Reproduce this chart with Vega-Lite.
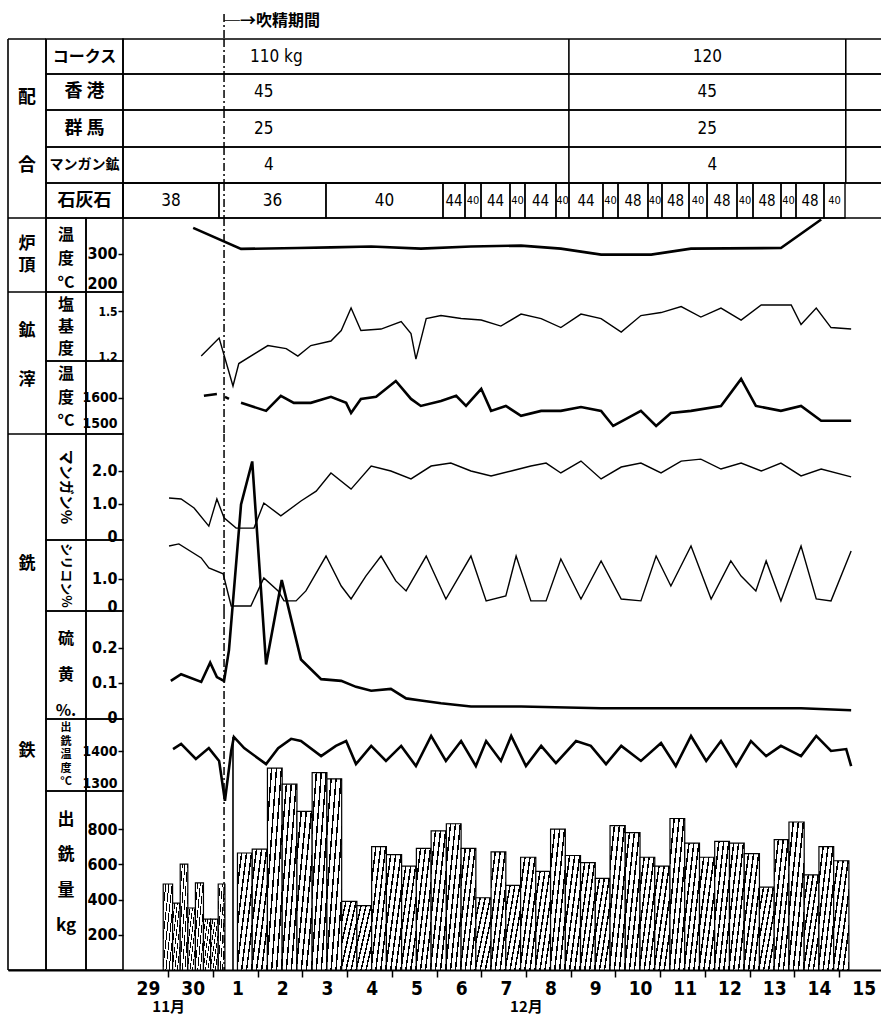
{
  "$schema": "https://vega.github.io/schema/vega-lite/v6.json",
  "background": "white",
  "padding": {"left": 7, "top": 13, "right": 0, "bottom": 0},
  "bounds": "flush",
  "spacing": 0,
  "resolve": {"scale": {"x": "independent", "y": "independent"}},
  "config": {
    "view": {"stroke": null},
    "concat": {"spacing": 0},
    "text": {"font": "Noto Sans CJK JP", "fontWeight": "bold", "color": "black"},
    "axis": {"grid": false, "domain": false, "title": null, "tickColor": "black", "labelColor": "black", "tickWidth": 1.5, "labelFont": "DejaVu Sans Condensed", "labelFontWeight": "bold", "labelOverlap": false, "labelBound": false},
    "line": {"color": "black"},
    "rule": {"color": "black", "strokeWidth": 1.6},
    "rect": {"fill": "transparent", "stroke": "black", "strokeWidth": 1.6}
  },
  "datasets": {
    "one": [{}],
    "events": [{"day": 1.70, "kind": "dash"}, {"day": 1.90, "kind": "solid"}],
    "mix": [
      {"item": "coke", "period": 1, "from": 1.70, "to": 9.41, "label": "110 kg"},
      {"item": "coke", "period": 2, "from": 9.41, "to": 15.6, "label": "120"},
      {"item": "hk", "period": 1, "from": 1.70, "to": 9.41, "label": "45"},
      {"item": "hk", "period": 2, "from": 9.41, "to": 15.6, "label": "45"},
      {"item": "gunma", "period": 1, "from": 1.70, "to": 9.41, "label": "25"},
      {"item": "gunma", "period": 2, "from": 9.41, "to": 15.6, "label": "25"},
      {"item": "mn", "period": 1, "from": 1.70, "to": 9.41, "label": "4"},
      {"item": "mn", "period": 2, "from": 9.41, "to": 15.6, "label": "4"}
    ],
    "lime": [
      {"from": -0.559, "to": 1.587, "kg": 38}, {"from": 1.587, "to": 3.979, "kg": 36},
      {"from": 3.979, "to": 6.595, "kg": 40}, {"from": 6.595, "to": 7.087, "kg": 44},
      {"from": 7.087, "to": 7.445, "kg": 40}, {"from": 7.445, "to": 8.093, "kg": 44},
      {"from": 8.093, "to": 8.428, "kg": 40}, {"from": 8.428, "to": 9.121, "kg": 44},
      {"from": 9.121, "to": 9.412, "kg": 40}, {"from": 9.412, "to": 10.172, "kg": 44},
      {"from": 10.172, "to": 10.508, "kg": 40}, {"from": 10.508, "to": 11.178, "kg": 48},
      {"from": 11.178, "to": 11.491, "kg": 40}, {"from": 11.491, "to": 12.095, "kg": 48},
      {"from": 12.095, "to": 12.498, "kg": 40}, {"from": 12.498, "to": 13.168, "kg": 48},
      {"from": 13.168, "to": 13.526, "kg": 40}, {"from": 13.526, "to": 14.152, "kg": 48},
      {"from": 14.152, "to": 14.487, "kg": 40}, {"from": 14.487, "to": 15.113, "kg": 48},
      {"from": 15.113, "to": 15.583, "kg": 40}
    ],
    "furnace": [
      {"day": 1.01, "temp": 387}, {"day": 2.08, "temp": 317}, {"day": 3.35, "temp": 320},
      {"day": 4.09, "temp": 322}, {"day": 4.99, "temp": 325}, {"day": 6.10, "temp": 318},
      {"day": 7.22, "temp": 325}, {"day": 8.34, "temp": 328}, {"day": 9.23, "temp": 318},
      {"day": 10.13, "temp": 298}, {"day": 11.25, "temp": 298}, {"day": 12.14, "temp": 318},
      {"day": 14.15, "temp": 320}, {"day": 15.05, "temp": 415}
    ],
    "basicity": [
      {"day": 1.19, "b": 1.2}, {"day": 1.59, "b": 1.32}, {"day": 1.90, "b": 1.0}, {"day": 2.03, "b": 1.15},
      {"day": 2.68, "b": 1.27}, {"day": 3.09, "b": 1.25}, {"day": 3.35, "b": 1.2}, {"day": 3.64, "b": 1.27},
      {"day": 4.09, "b": 1.3}, {"day": 4.32, "b": 1.37}, {"day": 4.54, "b": 1.52}, {"day": 4.76, "b": 1.37},
      {"day": 5.21, "b": 1.38}, {"day": 5.66, "b": 1.43}, {"day": 5.88, "b": 1.35}, {"day": 5.99, "b": 1.18},
      {"day": 6.22, "b": 1.45}, {"day": 6.55, "b": 1.47}, {"day": 7.0, "b": 1.45}, {"day": 7.45, "b": 1.44},
      {"day": 7.89, "b": 1.4}, {"day": 8.34, "b": 1.48}, {"day": 8.79, "b": 1.45}, {"day": 9.23, "b": 1.39},
      {"day": 9.68, "b": 1.48}, {"day": 10.13, "b": 1.45}, {"day": 10.58, "b": 1.36}, {"day": 11.02, "b": 1.47},
      {"day": 11.47, "b": 1.49}, {"day": 11.92, "b": 1.53}, {"day": 12.36, "b": 1.46}, {"day": 12.81, "b": 1.52},
      {"day": 13.26, "b": 1.44}, {"day": 13.71, "b": 1.54}, {"day": 14.38, "b": 1.54}, {"day": 14.6, "b": 1.41},
      {"day": 14.94, "b": 1.52}, {"day": 15.27, "b": 1.39}, {"day": 15.72, "b": 1.38}
    ],
    "slagtemp": [
      {"day": 1.25, "temp": 1608, "seg": 1}, {"day": 1.54, "temp": 1615, "seg": 1},
      {"day": 1.72, "temp": 1604, "seg": 2}, {"day": 1.81, "temp": 1596, "seg": 2},
      {"day": 2.08, "temp": 1581, "seg": 3}, {"day": 2.64, "temp": 1550, "seg": 3}, {"day": 2.97, "temp": 1608, "seg": 3},
      {"day": 3.26, "temp": 1581, "seg": 3}, {"day": 3.64, "temp": 1581, "seg": 3}, {"day": 4.09, "temp": 1604, "seg": 3},
      {"day": 4.43, "temp": 1581, "seg": 3}, {"day": 4.54, "temp": 1542, "seg": 3}, {"day": 4.76, "temp": 1596, "seg": 3},
      {"day": 5.10, "temp": 1604, "seg": 3}, {"day": 5.54, "temp": 1665, "seg": 3}, {"day": 5.88, "temp": 1596, "seg": 3},
      {"day": 6.10, "temp": 1569, "seg": 3}, {"day": 6.55, "temp": 1588, "seg": 3}, {"day": 6.89, "temp": 1608, "seg": 3},
      {"day": 7.11, "temp": 1569, "seg": 3}, {"day": 7.45, "temp": 1635, "seg": 3}, {"day": 7.67, "temp": 1550, "seg": 3},
      {"day": 8.00, "temp": 1569, "seg": 3}, {"day": 8.34, "temp": 1531, "seg": 3}, {"day": 8.79, "temp": 1550, "seg": 3},
      {"day": 9.23, "temp": 1550, "seg": 3}, {"day": 9.68, "temp": 1565, "seg": 3}, {"day": 10.13, "temp": 1550, "seg": 3},
      {"day": 10.40, "temp": 1492, "seg": 3}, {"day": 10.69, "temp": 1519, "seg": 3}, {"day": 11.02, "temp": 1550, "seg": 3},
      {"day": 11.36, "temp": 1492, "seg": 3}, {"day": 11.69, "temp": 1542, "seg": 3}, {"day": 12.14, "temp": 1550, "seg": 3},
      {"day": 12.81, "temp": 1569, "seg": 3}, {"day": 13.26, "temp": 1673, "seg": 3}, {"day": 13.59, "temp": 1569, "seg": 3},
      {"day": 14.15, "temp": 1550, "seg": 3}, {"day": 14.60, "temp": 1569, "seg": 3}, {"day": 15.05, "temp": 1512, "seg": 3},
      {"day": 15.72, "temp": 1512, "seg": 3}
    ],
    "mn": [
      {"day": 0.47, "pct": 1.18}, {"day": 0.74, "pct": 1.15}, {"day": 1.03, "pct": 0.88}, {"day": 1.36, "pct": 0.33},
      {"day": 1.54, "pct": 1.15}, {"day": 1.70, "pct": 0.58}, {"day": 1.97, "pct": 0.27}, {"day": 2.37, "pct": 0.27},
      {"day": 2.59, "pct": 1.03}, {"day": 2.97, "pct": 0.64}, {"day": 3.42, "pct": 1.09}, {"day": 3.76, "pct": 1.39},
      {"day": 4.09, "pct": 1.94}, {"day": 4.54, "pct": 1.45}, {"day": 4.99, "pct": 2.15}, {"day": 5.43, "pct": 2.0},
      {"day": 5.88, "pct": 1.76}, {"day": 6.33, "pct": 2.15}, {"day": 6.77, "pct": 2.24}, {"day": 7.22, "pct": 2.0},
      {"day": 7.67, "pct": 1.85}, {"day": 8.12, "pct": 2.0}, {"day": 8.56, "pct": 2.15}, {"day": 8.90, "pct": 2.24},
      {"day": 9.23, "pct": 1.94}, {"day": 9.68, "pct": 2.3}, {"day": 10.13, "pct": 1.76}, {"day": 10.58, "pct": 2.12},
      {"day": 11.02, "pct": 2.24}, {"day": 11.47, "pct": 1.94}, {"day": 11.92, "pct": 2.3}, {"day": 12.36, "pct": 2.36},
      {"day": 12.81, "pct": 2.06}, {"day": 13.26, "pct": 2.24}, {"day": 13.71, "pct": 2.0}, {"day": 14.15, "pct": 2.24},
      {"day": 14.60, "pct": 1.85}, {"day": 15.05, "pct": 2.06}, {"day": 15.72, "pct": 1.82}
    ],
    "si": [
      {"day": 0.47, "pct": 2.22}, {"day": 0.69, "pct": 2.3}, {"day": 1.19, "pct": 1.78}, {"day": 1.36, "pct": 1.41},
      {"day": 1.68, "pct": 1.19}, {"day": 1.86, "pct": 0.0}, {"day": 2.30, "pct": 0.0}, {"day": 2.59, "pct": 1.04},
      {"day": 2.91, "pct": 0.56}, {"day": 3.04, "pct": 0.19}, {"day": 3.31, "pct": 0.19}, {"day": 3.53, "pct": 0.56},
      {"day": 3.98, "pct": 1.85}, {"day": 4.32, "pct": 0.74}, {"day": 4.54, "pct": 0.26}, {"day": 4.87, "pct": 1.11},
      {"day": 5.21, "pct": 1.85}, {"day": 5.54, "pct": 0.93}, {"day": 5.77, "pct": 0.56}, {"day": 6.22, "pct": 1.85},
      {"day": 6.66, "pct": 0.26}, {"day": 7.22, "pct": 1.85}, {"day": 7.56, "pct": 0.19}, {"day": 8.0, "pct": 0.37},
      {"day": 8.23, "pct": 1.85}, {"day": 8.56, "pct": 0.19}, {"day": 8.90, "pct": 0.19}, {"day": 9.23, "pct": 1.74},
      {"day": 9.68, "pct": 0.26}, {"day": 10.13, "pct": 1.67}, {"day": 10.58, "pct": 0.26}, {"day": 11.02, "pct": 0.19},
      {"day": 11.36, "pct": 1.85}, {"day": 11.69, "pct": 0.74}, {"day": 12.14, "pct": 2.22}, {"day": 12.59, "pct": 0.26},
      {"day": 13.03, "pct": 1.67}, {"day": 13.26, "pct": 1.11}, {"day": 13.59, "pct": 0.56}, {"day": 13.82, "pct": 1.67},
      {"day": 14.15, "pct": 0.19}, {"day": 14.60, "pct": 2.22}, {"day": 14.94, "pct": 0.26}, {"day": 15.27, "pct": 0.19},
      {"day": 15.72, "pct": 2.04}
    ],
    "sulfur": [
      {"day": 0.51, "pct": 0.106}, {"day": 0.74, "pct": 0.125}, {"day": 1.19, "pct": 0.103}, {"day": 1.39, "pct": 0.158},
      {"day": 1.54, "pct": 0.117}, {"day": 1.70, "pct": 0.106}, {"day": 1.81, "pct": 0.194}, {"day": 2.08, "pct": 0.61},
      {"day": 2.33, "pct": 0.733}, {"day": 2.64, "pct": 0.153}, {"day": 2.99, "pct": 0.394}, {"day": 3.42, "pct": 0.167},
      {"day": 3.87, "pct": 0.111}, {"day": 4.32, "pct": 0.106}, {"day": 4.65, "pct": 0.089}, {"day": 4.99, "pct": 0.078},
      {"day": 5.43, "pct": 0.083}, {"day": 5.77, "pct": 0.056}, {"day": 6.10, "pct": 0.05}, {"day": 6.55, "pct": 0.042},
      {"day": 7.22, "pct": 0.033}, {"day": 8.34, "pct": 0.033}, {"day": 10.13, "pct": 0.028}, {"day": 12.36, "pct": 0.028},
      {"day": 14.60, "pct": 0.028}, {"day": 15.72, "pct": 0.022}
    ],
    "irontemp": [
      {"day": 0.56, "temp": 1406}, {"day": 0.74, "temp": 1422}, {"day": 1.07, "temp": 1375}, {"day": 1.36, "temp": 1409},
      {"day": 1.59, "temp": 1369}, {"day": 1.72, "temp": 1244}, {"day": 1.86, "temp": 1400}, {"day": 1.92, "temp": 1444},
      {"day": 2.15, "temp": 1409}, {"day": 2.64, "temp": 1359}, {"day": 2.91, "temp": 1409}, {"day": 3.20, "temp": 1438},
      {"day": 3.42, "temp": 1431}, {"day": 3.87, "temp": 1384}, {"day": 4.20, "temp": 1416}, {"day": 4.43, "temp": 1431},
      {"day": 4.65, "temp": 1359}, {"day": 4.99, "temp": 1416}, {"day": 5.32, "temp": 1369}, {"day": 5.66, "temp": 1416},
      {"day": 5.99, "temp": 1353}, {"day": 6.33, "temp": 1447}, {"day": 6.66, "temp": 1369}, {"day": 7.0, "temp": 1431},
      {"day": 7.33, "temp": 1353}, {"day": 7.56, "temp": 1431}, {"day": 7.89, "temp": 1369}, {"day": 8.12, "temp": 1447},
      {"day": 8.45, "temp": 1353}, {"day": 8.79, "temp": 1416}, {"day": 9.12, "temp": 1362}, {"day": 9.57, "temp": 1431},
      {"day": 9.90, "temp": 1416}, {"day": 10.24, "temp": 1359}, {"day": 10.58, "temp": 1416}, {"day": 11.02, "temp": 1369},
      {"day": 11.47, "temp": 1425}, {"day": 11.80, "temp": 1353}, {"day": 12.14, "temp": 1447}, {"day": 12.48, "temp": 1369},
      {"day": 12.81, "temp": 1431}, {"day": 13.15, "temp": 1353}, {"day": 13.48, "temp": 1431}, {"day": 13.82, "temp": 1384},
      {"day": 14.15, "temp": 1416}, {"day": 14.60, "temp": 1384}, {"day": 14.94, "temp": 1447}, {"day": 15.27, "temp": 1400},
      {"day": 15.61, "temp": 1406}, {"day": 15.72, "temp": 1353}
    ],
    "tap": [
      {"from": 0.34, "to": 0.55, "kg": 488}, {"from": 0.55, "to": 0.72, "kg": 380}, {"from": 0.72, "to": 0.89, "kg": 601},
      {"from": 0.89, "to": 1.06, "kg": 352}, {"from": 1.06, "to": 1.24, "kg": 494}, {"from": 1.24, "to": 1.40, "kg": 289},
      {"from": 1.40, "to": 1.57, "kg": 289}, {"from": 1.57, "to": 1.72, "kg": 488},
      {"from": 2.00, "to": 2.33, "kg": 664}, {"from": 2.33, "to": 2.67, "kg": 686}, {"from": 2.67, "to": 3.00, "kg": 1146},
      {"from": 3.00, "to": 3.33, "kg": 1055}, {"from": 3.33, "to": 3.67, "kg": 900}, {"from": 3.67, "to": 4.00, "kg": 1120},
      {"from": 4.00, "to": 4.33, "kg": 1085}, {"from": 4.33, "to": 4.67, "kg": 390}, {"from": 4.67, "to": 5.00, "kg": 365},
      {"from": 5.00, "to": 5.33, "kg": 700}, {"from": 5.33, "to": 5.67, "kg": 655}, {"from": 5.67, "to": 6.00, "kg": 590},
      {"from": 6.00, "to": 6.33, "kg": 690}, {"from": 6.33, "to": 6.67, "kg": 790}, {"from": 6.67, "to": 7.00, "kg": 830},
      {"from": 7.00, "to": 7.33, "kg": 690}, {"from": 7.33, "to": 7.67, "kg": 410}, {"from": 7.67, "to": 8.00, "kg": 670},
      {"from": 8.00, "to": 8.33, "kg": 480}, {"from": 8.33, "to": 8.67, "kg": 640}, {"from": 8.67, "to": 9.00, "kg": 560},
      {"from": 9.00, "to": 9.33, "kg": 800}, {"from": 9.33, "to": 9.67, "kg": 650}, {"from": 9.67, "to": 10.00, "kg": 610},
      {"from": 10.00, "to": 10.33, "kg": 520}, {"from": 10.33, "to": 10.67, "kg": 820}, {"from": 10.67, "to": 11.00, "kg": 780},
      {"from": 11.00, "to": 11.33, "kg": 640}, {"from": 11.33, "to": 11.67, "kg": 590}, {"from": 11.67, "to": 12.00, "kg": 860},
      {"from": 12.00, "to": 12.33, "kg": 720}, {"from": 12.33, "to": 12.67, "kg": 640}, {"from": 12.67, "to": 13.00, "kg": 730},
      {"from": 13.00, "to": 13.33, "kg": 720}, {"from": 13.33, "to": 13.67, "kg": 660}, {"from": 13.67, "to": 14.00, "kg": 470},
      {"from": 14.00, "to": 14.33, "kg": 740}, {"from": 14.33, "to": 14.67, "kg": 840}, {"from": 14.67, "to": 15.00, "kg": 540},
      {"from": 15.00, "to": 15.33, "kg": 700}, {"from": 15.33, "to": 15.67, "kg": 620}
    ]
  },
  "vconcat": [
    {"width": 874, "height": 25, "layer": [
      {"data": {"name": "events"}, "transform": [{"filter": "datum.kind == 'dash'"}], "mark": {"type": "rule", "strokeDash": [8, 3, 2, 3], "strokeWidth": 1.5},
       "encoding": {"x": {"field": "day", "type": "quantitative", "scale": {"domain": [-3.130, 16.410], "nice": false, "zero": false}, "axis": null},
        "y": {"datum": 1, "type": "quantitative", "scale": {"domain": [0, 1], "nice": false, "zero": false}, "axis": null}, "y2": {"datum": 0}}},
      {"data": {"name": "events"}, "transform": [{"filter": "datum.kind == 'dash'"}], "mark": {"type": "text", "text": "─→吹精期間", "align": "left", "fontSize": 16},
       "encoding": {"x": {"field": "day", "type": "quantitative", "axis": null}, "y": {"datum": 0.72, "type": "quantitative", "axis": null}}}
    ]},
    {"width": 874, "height": 35, "layer": [
      {"data": {"name": "one"}, "mark": "rule", "encoding": {"x": {"datum": -3.130, "type": "quantitative", "scale": {"domain": [-3.130, 16.410], "nice": false, "zero": false}, "axis": null}, "y": {"datum": 1, "type": "quantitative", "scale": {"domain": [0, 1], "nice": false, "zero": false}, "axis": null}, "y2": {"datum": 0}}},
      {"data": {"name": "one"}, "mark": "rule", "encoding": {"x": {"datum": -2.280, "type": "quantitative", "axis": null}, "y": {"datum": 1, "type": "quantitative", "axis": null}, "y2": {"datum": 0}}},
      {"data": {"name": "one"}, "mark": "rule", "encoding": {"x": {"datum": -3.130, "type": "quantitative", "axis": null}, "x2": {"datum": -2.280}, "y": {"datum": 1, "type": "quantitative", "axis": null}}},
      {"data": {"name": "one"}, "mark": "rect", "encoding": {"x": {"datum": -2.280, "type": "quantitative", "axis": null}, "x2": {"datum": -0.559}, "y": {"datum": 1, "type": "quantitative", "axis": null}, "y2": {"datum": 0}}},
      {"data": {"name": "one"}, "mark": "rect", "encoding": {"x": {"datum": -0.559, "type": "quantitative", "axis": null}, "x2": {"datum": 16.6}, "y": {"datum": 1, "type": "quantitative", "axis": null}, "y2": {"datum": 0}}},
      {"data": {"name": "one"}, "mark": {"type": "text", "text": "コークス", "fontSize": 16}, "encoding": {"x": {"datum": -1.420, "type": "quantitative", "axis": null}}},
      {"data": {"name": "mix"}, "transform": [{"filter": "datum.item == 'coke'"}], "mark": "rule", "encoding": {"x": {"field": "to", "type": "quantitative", "axis": null}, "y": {"datum": 1, "type": "quantitative", "axis": null}, "y2": {"datum": 0}}},
      {"data": {"name": "mix"}, "transform": [{"filter": "datum.item == 'coke' && datum.period == 1"}], "mark": {"type": "text", "align": "left", "dx": 26, "font": "DejaVu Sans Condensed", "fontSize": 17, "fontWeight": "normal"},
       "encoding": {"x": {"field": "from", "type": "quantitative", "axis": null}, "text": {"field": "label"}}},
      {"data": {"name": "mix"}, "transform": [{"filter": "datum.item == 'coke' && datum.period == 2"}, {"calculate": "(datum.from + datum.to) / 2", "as": "mid"}], "mark": {"type": "text", "font": "DejaVu Sans Condensed", "fontSize": 17, "fontWeight": "normal"},
       "encoding": {"x": {"field": "mid", "type": "quantitative", "axis": null}, "text": {"field": "label"}}},
      {"data": {"name": "events"}, "transform": [{"filter": "datum.kind == 'dash'"}], "mark": {"type": "rule", "strokeDash": [8, 3, 2, 3], "strokeWidth": 1.5}, "encoding": {"x": {"field": "day", "type": "quantitative", "axis": null}, "y": {"datum": 1, "type": "quantitative", "axis": null}, "y2": {"datum": 0}}}
    ]},
    {"width": 874, "height": 36, "layer": [
      {"data": {"name": "one"}, "mark": "rule", "encoding": {"x": {"datum": -3.130, "type": "quantitative", "scale": {"domain": [-3.130, 16.410], "nice": false, "zero": false}, "axis": null}, "y": {"datum": 1, "type": "quantitative", "scale": {"domain": [0, 1], "nice": false, "zero": false}, "axis": null}, "y2": {"datum": 0}}},
      {"data": {"name": "one"}, "mark": "rule", "encoding": {"x": {"datum": -2.280, "type": "quantitative", "axis": null}, "y": {"datum": 1, "type": "quantitative", "axis": null}, "y2": {"datum": 0}}},
      {"data": {"name": "one"}, "mark": "rect", "encoding": {"x": {"datum": -2.280, "type": "quantitative", "axis": null}, "x2": {"datum": -0.559}, "y": {"datum": 1, "type": "quantitative", "axis": null}, "y2": {"datum": 0}}},
      {"data": {"name": "one"}, "mark": "rect", "encoding": {"x": {"datum": -0.559, "type": "quantitative", "axis": null}, "x2": {"datum": 16.6}, "y": {"datum": 1, "type": "quantitative", "axis": null}, "y2": {"datum": 0}}},
      {"data": {"name": "one"}, "mark": {"type": "text", "text": "配", "fontSize": 18, "dy": 6}, "encoding": {"x": {"datum": -2.705, "type": "quantitative", "axis": null}}},
      {"data": {"name": "one"}, "mark": {"type": "text", "text": "香 港", "fontSize": 18}, "encoding": {"x": {"datum": -1.420, "type": "quantitative", "axis": null}}},
      {"data": {"name": "mix"}, "transform": [{"filter": "datum.item == 'hk'"}], "mark": "rule", "encoding": {"x": {"field": "to", "type": "quantitative", "axis": null}, "y": {"datum": 1, "type": "quantitative", "axis": null}, "y2": {"datum": 0}}},
      {"data": {"name": "mix"}, "transform": [{"filter": "datum.item == 'hk' && datum.period == 1"}], "mark": {"type": "text", "align": "left", "dx": 30, "font": "DejaVu Sans Condensed", "fontSize": 17, "fontWeight": "normal"},
       "encoding": {"x": {"field": "from", "type": "quantitative", "axis": null}, "text": {"field": "label"}}},
      {"data": {"name": "mix"}, "transform": [{"filter": "datum.item == 'hk' && datum.period == 2"}, {"calculate": "(datum.from + datum.to) / 2", "as": "mid"}], "mark": {"type": "text", "font": "DejaVu Sans Condensed", "fontSize": 17, "fontWeight": "normal"},
       "encoding": {"x": {"field": "mid", "type": "quantitative", "axis": null}, "text": {"field": "label"}}},
      {"data": {"name": "events"}, "transform": [{"filter": "datum.kind == 'dash'"}], "mark": {"type": "rule", "strokeDash": [8, 3, 2, 3], "strokeWidth": 1.5}, "encoding": {"x": {"field": "day", "type": "quantitative", "axis": null}, "y": {"datum": 1, "type": "quantitative", "axis": null}, "y2": {"datum": 0}}}
    ]},
    {"width": 874, "height": 37, "layer": [
      {"data": {"name": "one"}, "mark": "rule", "encoding": {"x": {"datum": -3.130, "type": "quantitative", "scale": {"domain": [-3.130, 16.410], "nice": false, "zero": false}, "axis": null}, "y": {"datum": 1, "type": "quantitative", "scale": {"domain": [0, 1], "nice": false, "zero": false}, "axis": null}, "y2": {"datum": 0}}},
      {"data": {"name": "one"}, "mark": "rule", "encoding": {"x": {"datum": -2.280, "type": "quantitative", "axis": null}, "y": {"datum": 1, "type": "quantitative", "axis": null}, "y2": {"datum": 0}}},
      {"data": {"name": "one"}, "mark": "rect", "encoding": {"x": {"datum": -2.280, "type": "quantitative", "axis": null}, "x2": {"datum": -0.559}, "y": {"datum": 1, "type": "quantitative", "axis": null}, "y2": {"datum": 0}}},
      {"data": {"name": "one"}, "mark": "rect", "encoding": {"x": {"datum": -0.559, "type": "quantitative", "axis": null}, "x2": {"datum": 16.6}, "y": {"datum": 1, "type": "quantitative", "axis": null}, "y2": {"datum": 0}}},
      {"data": {"name": "one"}, "mark": {"type": "text", "text": "群 馬", "fontSize": 18}, "encoding": {"x": {"datum": -1.420, "type": "quantitative", "axis": null}}},
      {"data": {"name": "mix"}, "transform": [{"filter": "datum.item == 'gunma'"}], "mark": "rule", "encoding": {"x": {"field": "to", "type": "quantitative", "axis": null}, "y": {"datum": 1, "type": "quantitative", "axis": null}, "y2": {"datum": 0}}},
      {"data": {"name": "mix"}, "transform": [{"filter": "datum.item == 'gunma' && datum.period == 1"}], "mark": {"type": "text", "align": "left", "dx": 30, "font": "DejaVu Sans Condensed", "fontSize": 17, "fontWeight": "normal"},
       "encoding": {"x": {"field": "from", "type": "quantitative", "axis": null}, "text": {"field": "label"}}},
      {"data": {"name": "mix"}, "transform": [{"filter": "datum.item == 'gunma' && datum.period == 2"}, {"calculate": "(datum.from + datum.to) / 2", "as": "mid"}], "mark": {"type": "text", "font": "DejaVu Sans Condensed", "fontSize": 17, "fontWeight": "normal"},
       "encoding": {"x": {"field": "mid", "type": "quantitative", "axis": null}, "text": {"field": "label"}}},
      {"data": {"name": "events"}, "transform": [{"filter": "datum.kind == 'dash'"}], "mark": {"type": "rule", "strokeDash": [8, 3, 2, 3], "strokeWidth": 1.5}, "encoding": {"x": {"field": "day", "type": "quantitative", "axis": null}, "y": {"datum": 1, "type": "quantitative", "axis": null}, "y2": {"datum": 0}}}
    ]},
    {"width": 874, "height": 36, "layer": [
      {"data": {"name": "one"}, "mark": "rule", "encoding": {"x": {"datum": -3.130, "type": "quantitative", "scale": {"domain": [-3.130, 16.410], "nice": false, "zero": false}, "axis": null}, "y": {"datum": 1, "type": "quantitative", "scale": {"domain": [0, 1], "nice": false, "zero": false}, "axis": null}, "y2": {"datum": 0}}},
      {"data": {"name": "one"}, "mark": "rule", "encoding": {"x": {"datum": -2.280, "type": "quantitative", "axis": null}, "y": {"datum": 1, "type": "quantitative", "axis": null}, "y2": {"datum": 0}}},
      {"data": {"name": "one"}, "mark": "rect", "encoding": {"x": {"datum": -2.280, "type": "quantitative", "axis": null}, "x2": {"datum": -0.559}, "y": {"datum": 1, "type": "quantitative", "axis": null}, "y2": {"datum": 0}}},
      {"data": {"name": "one"}, "mark": "rect", "encoding": {"x": {"datum": -0.559, "type": "quantitative", "axis": null}, "x2": {"datum": 16.6}, "y": {"datum": 1, "type": "quantitative", "axis": null}, "y2": {"datum": 0}}},
      {"data": {"name": "one"}, "mark": {"type": "text", "text": "合", "fontSize": 18, "dy": 1}, "encoding": {"x": {"datum": -2.705, "type": "quantitative", "axis": null}}},
      {"data": {"name": "one"}, "mark": {"type": "text", "text": "マンガン鉱", "fontSize": 14}, "encoding": {"x": {"datum": -1.420, "type": "quantitative", "axis": null}}},
      {"data": {"name": "mix"}, "transform": [{"filter": "datum.item == 'mn'"}], "mark": "rule", "encoding": {"x": {"field": "to", "type": "quantitative", "axis": null}, "y": {"datum": 1, "type": "quantitative", "axis": null}, "y2": {"datum": 0}}},
      {"data": {"name": "mix"}, "transform": [{"filter": "datum.item == 'mn' && datum.period == 1"}], "mark": {"type": "text", "align": "left", "dx": 40, "font": "DejaVu Sans Condensed", "fontSize": 17, "fontWeight": "normal"},
       "encoding": {"x": {"field": "from", "type": "quantitative", "axis": null}, "text": {"field": "label"}}},
      {"data": {"name": "mix"}, "transform": [{"filter": "datum.item == 'mn' && datum.period == 2"}, {"calculate": "(datum.from + datum.to) / 2", "as": "mid"}], "mark": {"type": "text", "font": "DejaVu Sans Condensed", "fontSize": 17, "fontWeight": "normal", "dx": 5},
       "encoding": {"x": {"field": "mid", "type": "quantitative", "axis": null}, "text": {"field": "label"}}},
      {"data": {"name": "events"}, "transform": [{"filter": "datum.kind == 'dash'"}], "mark": {"type": "rule", "strokeDash": [8, 3, 2, 3], "strokeWidth": 1.5}, "encoding": {"x": {"field": "day", "type": "quantitative", "axis": null}, "y": {"datum": 1, "type": "quantitative", "axis": null}, "y2": {"datum": 0}}}
    ]},
    {"width": 874, "height": 35, "layer": [
      {"data": {"name": "one"}, "mark": "rule", "encoding": {"x": {"datum": -3.130, "type": "quantitative", "scale": {"domain": [-3.130, 16.410], "nice": false, "zero": false}, "axis": null}, "y": {"datum": 1, "type": "quantitative", "scale": {"domain": [0, 1], "nice": false, "zero": false}, "axis": null}, "y2": {"datum": 0}}},
      {"data": {"name": "one"}, "mark": "rule", "encoding": {"x": {"datum": -2.280, "type": "quantitative", "axis": null}, "y": {"datum": 1, "type": "quantitative", "axis": null}, "y2": {"datum": 0}}},
      {"data": {"name": "one"}, "mark": "rect", "encoding": {"x": {"datum": -2.280, "type": "quantitative", "axis": null}, "x2": {"datum": -0.559}, "y": {"datum": 1, "type": "quantitative", "axis": null}, "y2": {"datum": 0}}},
      {"data": {"name": "one"}, "mark": "rect", "encoding": {"x": {"datum": -0.559, "type": "quantitative", "axis": null}, "x2": {"datum": 16.6}, "y": {"datum": 1, "type": "quantitative", "axis": null}, "y2": {"datum": 0}}},
      {"data": {"name": "one"}, "mark": {"type": "text", "text": "石灰石", "fontSize": 18}, "encoding": {"x": {"datum": -1.420, "type": "quantitative", "axis": null}}},
      {"data": {"name": "lime"}, "mark": {"type": "rect", "strokeWidth": 1.4},
       "encoding": {"x": {"field": "from", "type": "quantitative", "axis": null}, "x2": {"field": "to"}, "y": {"datum": 1, "type": "quantitative", "axis": null}, "y2": {"datum": 0}}},
      {"data": {"name": "lime"}, "transform": [{"calculate": "(datum.from + datum.to) / 2", "as": "mid"}, {"filter": "datum.to - datum.from < 0.48"}], "mark": {"type": "text", "font": "DejaVu Sans Condensed", "fontWeight": "normal", "fontSize": 11},
       "encoding": {"x": {"field": "mid", "type": "quantitative", "axis": null}, "text": {"field": "kg"}}},
      {"data": {"name": "lime"}, "transform": [{"calculate": "(datum.from + datum.to) / 2", "as": "mid"}, {"filter": "datum.to - datum.from >= 0.48 && datum.to - datum.from < 1"}], "mark": {"type": "text", "font": "DejaVu Sans Condensed", "fontWeight": "normal", "fontSize": 15},
       "encoding": {"x": {"field": "mid", "type": "quantitative", "axis": null}, "text": {"field": "kg"}}},
      {"data": {"name": "lime"}, "transform": [{"calculate": "(datum.from + datum.to) / 2", "as": "mid"}, {"filter": "datum.to - datum.from >= 1"}], "mark": {"type": "text", "font": "DejaVu Sans Condensed", "fontWeight": "normal", "fontSize": 17},
       "encoding": {"x": {"field": "mid", "type": "quantitative", "axis": null}, "text": {"field": "kg"}}},
      {"data": {"name": "events"}, "transform": [{"filter": "datum.kind == 'dash'"}], "mark": {"type": "rule", "strokeDash": [8, 3, 2, 3], "strokeWidth": 1.5}, "encoding": {"x": {"field": "day", "type": "quantitative", "axis": null}, "y": {"datum": 1, "type": "quantitative", "axis": null}, "y2": {"datum": 0}}}
    ]},
    {"width": 874, "height": 74, "layer": [
      {"data": {"name": "one"}, "mark": "rule", "encoding": {"x": {"datum": -3.130, "type": "quantitative", "scale": {"domain": [-3.130, 16.410], "nice": false, "zero": false}, "axis": null}, "y": {"datum": 420, "type": "quantitative", "scale": {"domain": [173.3, 420], "nice": false, "zero": false}}, "y2": {"datum": 173.3}}},
      {"data": {"name": "one"}, "mark": "rule", "encoding": {"x": {"datum": -2.280, "type": "quantitative", "axis": null}, "y": {"datum": 420, "type": "quantitative"}, "y2": {"datum": 173.3}}},
      {"data": {"name": "one"}, "mark": "rule", "encoding": {"x": {"datum": -3.130, "type": "quantitative", "axis": null}, "x2": {"datum": -2.280}, "y": {"datum": 420, "type": "quantitative"}}},
      {"data": {"name": "one"}, "mark": "rect", "encoding": {"x": {"datum": -2.280, "type": "quantitative", "axis": null}, "x2": {"datum": -1.386}, "y": {"datum": 420, "type": "quantitative"}, "y2": {"datum": 173.3}}},
      {"data": {"name": "one"}, "mark": "rect", "encoding": {"x": {"datum": -1.386, "type": "quantitative", "axis": null}, "x2": {"datum": -0.559}, "y": {"datum": 420, "type": "quantitative"}, "y2": {"datum": 173.3}}},
      {"data": {"name": "one"}, "mark": {"type": "text", "text": ["炉", "頂"], "lineHeight": 22, "fontSize": 17, "dy": -11}, "encoding": {"x": {"datum": -2.705, "type": "quantitative", "axis": null}}},
      {"data": {"name": "one"}, "mark": {"type": "text", "text": ["温", "度", "°C"], "lineHeight": 24, "fontSize": 16, "dy": -20}, "encoding": {"x": {"datum": -1.833, "type": "quantitative", "axis": null}}},
      {"data": {"name": "furnace"}, "mark": {"type": "line", "strokeWidth": 2.6, "clip": false},
       "encoding": {"x": {"field": "day", "type": "quantitative", "axis": null},
        "y": {"field": "temp", "type": "quantitative",
         "axis": {"values": [200, 300], "format": "d", "offset": -115, "labelFontSize": 16, "tickSize": 5, "labelPadding": 1, "tickOpacity": {"condition": {"test": "datum.value == 200", "value": 0}, "value": 1}}}}},
      {"data": {"name": "events"}, "transform": [{"filter": "datum.kind == 'dash'"}], "mark": {"type": "rule", "strokeDash": [8, 3, 2, 3], "strokeWidth": 1.5}, "encoding": {"x": {"field": "day", "type": "quantitative", "axis": null}, "y": {"datum": 420, "type": "quantitative"}, "y2": {"datum": 173.3}}}
    ]},
    {"width": 874, "height": 69, "layer": [
      {"data": {"name": "one"}, "mark": "rule", "encoding": {"x": {"datum": -3.130, "type": "quantitative", "scale": {"domain": [-3.130, 16.410], "nice": false, "zero": false}, "axis": null}, "y": {"datum": 1.627, "type": "quantitative", "scale": {"domain": [1.167, 1.627], "nice": false, "zero": false}}, "y2": {"datum": 1.167}}},
      {"data": {"name": "one"}, "mark": "rule", "encoding": {"x": {"datum": -2.280, "type": "quantitative", "axis": null}, "y": {"datum": 1.627, "type": "quantitative"}, "y2": {"datum": 1.167}}},
      {"data": {"name": "one"}, "mark": "rule", "encoding": {"x": {"datum": -3.130, "type": "quantitative", "axis": null}, "x2": {"datum": -2.280}, "y": {"datum": 1.627, "type": "quantitative"}}},
      {"data": {"name": "one"}, "mark": "rect", "encoding": {"x": {"datum": -2.280, "type": "quantitative", "axis": null}, "x2": {"datum": -1.386}, "y": {"datum": 1.627, "type": "quantitative"}, "y2": {"datum": 1.167}}},
      {"data": {"name": "one"}, "mark": "rect", "encoding": {"x": {"datum": -1.386, "type": "quantitative", "axis": null}, "x2": {"datum": -0.559}, "y": {"datum": 1.627, "type": "quantitative"}, "y2": {"datum": 1.167}}},
      {"data": {"name": "one"}, "mark": {"type": "text", "text": "鉱", "fontSize": 17, "dy": 4}, "encoding": {"x": {"datum": -2.705, "type": "quantitative", "axis": null}}},
      {"data": {"name": "one"}, "mark": {"type": "text", "text": ["塩", "基", "度"], "lineHeight": 22, "fontSize": 16, "dy": -22}, "encoding": {"x": {"datum": -1.833, "type": "quantitative", "axis": null}}},
      {"data": {"name": "basicity"}, "mark": {"type": "line", "strokeWidth": 1.4, "clip": false},
       "encoding": {"x": {"field": "day", "type": "quantitative", "axis": null},
        "y": {"field": "b", "type": "quantitative",
         "axis": {"values": [1.2, 1.3, 1.4, 1.5], "format": ".1f", "offset": -115, "labelFontSize": 12, "tickSize": 5, "labelPadding": 1, "tickOpacity": {"condition": {"test": "datum.value < 1.25", "value": 0}, "value": 1}}}}},
      {"data": {"name": "events"}, "transform": [{"filter": "datum.kind == 'dash'"}], "mark": {"type": "rule", "strokeDash": [8, 3, 2, 3], "strokeWidth": 1.5}, "encoding": {"x": {"field": "day", "type": "quantitative", "axis": null}, "y": {"datum": 1.627, "type": "quantitative"}, "y2": {"datum": 1.167}}}
    ]},
    {"width": 874, "height": 73, "layer": [
      {"data": {"name": "one"}, "mark": "rule", "encoding": {"x": {"datum": -3.130, "type": "quantitative", "scale": {"domain": [-3.130, 16.410], "nice": false, "zero": false}, "axis": null}, "y": {"datum": 1742, "type": "quantitative", "scale": {"domain": [1461, 1742], "nice": false, "zero": false}}, "y2": {"datum": 1461}}},
      {"data": {"name": "one"}, "mark": "rule", "encoding": {"x": {"datum": -2.280, "type": "quantitative", "axis": null}, "y": {"datum": 1742, "type": "quantitative"}, "y2": {"datum": 1461}}},
      {"data": {"name": "one"}, "mark": "rect", "encoding": {"x": {"datum": -2.280, "type": "quantitative", "axis": null}, "x2": {"datum": -1.386}, "y": {"datum": 1742, "type": "quantitative"}, "y2": {"datum": 1461}}},
      {"data": {"name": "one"}, "mark": "rect", "encoding": {"x": {"datum": -1.386, "type": "quantitative", "axis": null}, "x2": {"datum": -0.559}, "y": {"datum": 1742, "type": "quantitative"}, "y2": {"datum": 1461}}},
      {"data": {"name": "one"}, "mark": {"type": "text", "text": "滓", "fontSize": 17, "dy": -18}, "encoding": {"x": {"datum": -2.705, "type": "quantitative", "axis": null}}},
      {"data": {"name": "one"}, "mark": {"type": "text", "text": ["温", "度", "°C"], "lineHeight": 23.5, "fontSize": 16, "dy": -23.5}, "encoding": {"x": {"datum": -1.833, "type": "quantitative", "axis": null}}},
      {"data": {"name": "slagtemp"}, "mark": {"type": "line", "strokeWidth": 2.6, "clip": false},
       "encoding": {"x": {"field": "day", "type": "quantitative", "axis": null},
        "y": {"field": "temp", "type": "quantitative",
         "axis": {"values": [1500, 1600], "format": "d", "offset": -115, "labelFontSize": 14, "tickSize": 5, "labelPadding": 1, "tickOpacity": {"condition": {"test": "datum.value == 1500", "value": 0}, "value": 1}}},
        "detail": {"field": "seg"}}},
      {"data": {"name": "events"}, "transform": [{"filter": "datum.kind == 'dash'"}], "mark": {"type": "rule", "strokeDash": [8, 3, 2, 3], "strokeWidth": 1.5}, "encoding": {"x": {"field": "day", "type": "quantitative", "axis": null}, "y": {"datum": 1742, "type": "quantitative"}, "y2": {"datum": 1461}}}
    ]},
    {"width": 874, "height": 106, "layer": [
      {"data": {"name": "one"}, "mark": "rule", "encoding": {"x": {"datum": -3.130, "type": "quantitative", "scale": {"domain": [-3.130, 16.410], "nice": false, "zero": false}, "axis": null}, "y": {"datum": 3.121, "type": "quantitative", "scale": {"domain": [-0.091, 3.121], "nice": false, "zero": false}}, "y2": {"datum": -0.091}}},
      {"data": {"name": "one"}, "mark": "rule", "encoding": {"x": {"datum": -2.280, "type": "quantitative", "axis": null}, "y": {"datum": 3.121, "type": "quantitative"}, "y2": {"datum": -0.091}}},
      {"data": {"name": "one"}, "mark": "rule", "encoding": {"x": {"datum": -3.130, "type": "quantitative", "axis": null}, "x2": {"datum": -2.280}, "y": {"datum": 3.121, "type": "quantitative"}}},
      {"data": {"name": "one"}, "mark": "rect", "encoding": {"x": {"datum": -2.280, "type": "quantitative", "axis": null}, "x2": {"datum": -1.386}, "y": {"datum": 3.121, "type": "quantitative"}, "y2": {"datum": -0.091}}},
      {"data": {"name": "one"}, "mark": "rect", "encoding": {"x": {"datum": -1.386, "type": "quantitative", "axis": null}, "x2": {"datum": -0.559}, "y": {"datum": 3.121, "type": "quantitative"}, "y2": {"datum": -0.091}}},
      {"data": {"name": "one"}, "mark": {"type": "text", "text": "マンガン%", "angle": 90, "fontSize": 15}, "encoding": {"x": {"datum": -1.833, "type": "quantitative", "axis": null}}},
      {"data": {"name": "mn"}, "mark": {"type": "line", "strokeWidth": 1.4, "clip": false},
       "encoding": {"x": {"field": "day", "type": "quantitative", "axis": null},
        "y": {"field": "pct", "type": "quantitative",
         "axis": {"values": [0, 1, 2], "offset": -115, "labelExpr": "datum.value == 0 ? '0' : format(datum.value, '.1f')", "labelFontSize": 16, "tickSize": 5, "labelPadding": 1, "tickOpacity": {"condition": {"test": "datum.value == 0", "value": 0}, "value": 1}}}}},
      {"data": {"name": "events"}, "transform": [{"filter": "datum.kind == 'dash'"}], "mark": {"type": "rule", "strokeDash": [8, 3, 2, 3], "strokeWidth": 1.5}, "encoding": {"x": {"field": "day", "type": "quantitative", "axis": null}, "y": {"datum": 3.121, "type": "quantitative"}, "y2": {"datum": -0.091}}}
    ]},
    {"width": 874, "height": 71, "layer": [
      {"data": {"name": "one"}, "mark": "rule", "encoding": {"x": {"datum": -3.130, "type": "quantitative", "scale": {"domain": [-3.130, 16.410], "nice": false, "zero": false}, "axis": null}, "y": {"datum": 2.444, "type": "quantitative", "scale": {"domain": [-0.185, 2.444], "nice": false, "zero": false}}, "y2": {"datum": -0.185}}},
      {"data": {"name": "one"}, "mark": "rule", "encoding": {"x": {"datum": -2.280, "type": "quantitative", "axis": null}, "y": {"datum": 2.444, "type": "quantitative"}, "y2": {"datum": -0.185}}},
      {"data": {"name": "one"}, "mark": "rect", "encoding": {"x": {"datum": -2.280, "type": "quantitative", "axis": null}, "x2": {"datum": -1.386}, "y": {"datum": 2.444, "type": "quantitative"}, "y2": {"datum": -0.185}}},
      {"data": {"name": "one"}, "mark": "rect", "encoding": {"x": {"datum": -1.386, "type": "quantitative", "axis": null}, "x2": {"datum": -0.559}, "y": {"datum": 2.444, "type": "quantitative"}, "y2": {"datum": -0.185}}},
      {"data": {"name": "one"}, "mark": {"type": "text", "text": "銑", "fontSize": 17, "dy": -12}, "encoding": {"x": {"datum": -2.705, "type": "quantitative", "axis": null}}},
      {"data": {"name": "one"}, "mark": {"type": "text", "text": "シリコン%", "angle": 90, "fontSize": 13}, "encoding": {"x": {"datum": -1.833, "type": "quantitative", "axis": null}}},
      {"data": {"name": "si"}, "mark": {"type": "line", "strokeWidth": 1.4, "clip": false},
       "encoding": {"x": {"field": "day", "type": "quantitative", "axis": null},
        "y": {"field": "pct", "type": "quantitative",
         "axis": {"values": [0, 1], "offset": -115, "labelExpr": "datum.value == 0 ? '0' : format(datum.value, '.1f')", "labelFontSize": 16, "tickSize": 5, "labelPadding": 1, "tickOpacity": {"condition": {"test": "datum.value == 0", "value": 0}, "value": 1}}}}},
      {"data": {"name": "events"}, "transform": [{"filter": "datum.kind == 'dash'"}], "mark": {"type": "rule", "strokeDash": [8, 3, 2, 3], "strokeWidth": 1.5}, "encoding": {"x": {"field": "day", "type": "quantitative", "axis": null}, "y": {"datum": 2.444, "type": "quantitative"}, "y2": {"datum": -0.185}}}
    ]},
    {"width": 874, "height": 108, "layer": [
      {"data": {"name": "one"}, "mark": "rule", "encoding": {"x": {"datum": -3.130, "type": "quantitative", "scale": {"domain": [-3.130, 16.410], "nice": false, "zero": false}, "axis": null}, "y": {"datum": 0.3057, "type": "quantitative", "scale": {"domain": [-0.0029, 0.3057], "nice": false, "zero": false}}, "y2": {"datum": -0.0029}}},
      {"data": {"name": "one"}, "mark": "rule", "encoding": {"x": {"datum": -2.280, "type": "quantitative", "axis": null}, "y": {"datum": 0.3057, "type": "quantitative"}, "y2": {"datum": -0.0029}}},
      {"data": {"name": "one"}, "mark": "rect", "encoding": {"x": {"datum": -2.280, "type": "quantitative", "axis": null}, "x2": {"datum": -1.386}, "y": {"datum": 0.3057, "type": "quantitative"}, "y2": {"datum": -0.0029}}},
      {"data": {"name": "one"}, "mark": "rect", "encoding": {"x": {"datum": -1.386, "type": "quantitative", "axis": null}, "x2": {"datum": -0.559}, "y": {"datum": 0.3057, "type": "quantitative"}, "y2": {"datum": -0.0029}}},
      {"data": {"name": "one"}, "mark": {"type": "text", "text": ["硫", "黄", "%."], "lineHeight": 36, "fontSize": 16, "dy": -26}, "encoding": {"x": {"datum": -1.833, "type": "quantitative", "axis": null}}},
      {"data": {"name": "sulfur"}, "mark": {"type": "line", "strokeWidth": 2.6, "clip": false},
       "encoding": {"x": {"field": "day", "type": "quantitative", "axis": null},
        "y": {"field": "pct", "type": "quantitative",
         "axis": {"values": [0, 0.1, 0.2], "offset": -115, "labelExpr": "datum.value == 0 ? '0' : format(datum.value, '.1f')", "labelFontSize": 16, "tickSize": 5, "labelPadding": 1, "tickOpacity": {"condition": {"test": "datum.value == 0", "value": 0}, "value": 1}}}}},
      {"data": {"name": "events"}, "transform": [{"filter": "datum.kind == 'dash'"}], "mark": {"type": "rule", "strokeDash": [8, 3, 2, 3], "strokeWidth": 1.5}, "encoding": {"x": {"field": "day", "type": "quantitative", "axis": null}, "y": {"datum": 0.3057, "type": "quantitative"}, "y2": {"datum": -0.0029}}}
    ]},
    {"width": 874, "height": 72, "layer": [
      {"data": {"name": "one"}, "mark": "rule", "encoding": {"x": {"datum": -3.130, "type": "quantitative", "scale": {"domain": [-3.130, 16.410], "nice": false, "zero": false}, "axis": null}, "y": {"datum": 1500, "type": "quantitative", "scale": {"domain": [1275, 1500], "nice": false, "zero": false}}, "y2": {"datum": 1275}}},
      {"data": {"name": "one"}, "mark": "rule", "encoding": {"x": {"datum": -2.280, "type": "quantitative", "axis": null}, "y": {"datum": 1500, "type": "quantitative"}, "y2": {"datum": 1275}}},
      {"data": {"name": "one"}, "mark": "rect", "encoding": {"x": {"datum": -2.280, "type": "quantitative", "axis": null}, "x2": {"datum": -1.386}, "y": {"datum": 1500, "type": "quantitative"}, "y2": {"datum": 1275}}},
      {"data": {"name": "one"}, "mark": "rect", "encoding": {"x": {"datum": -1.386, "type": "quantitative", "axis": null}, "x2": {"datum": -0.559}, "y": {"datum": 1500, "type": "quantitative"}, "y2": {"datum": 1275}}},
      {"data": {"name": "one"}, "mark": {"type": "text", "text": "鉄", "fontSize": 17, "dy": -4}, "encoding": {"x": {"datum": -2.705, "type": "quantitative", "axis": null}}},
      {"data": {"name": "one"}, "mark": {"type": "text", "text": ["出", "銑", "温", "度", "°C"], "lineHeight": 13.5, "fontSize": 11, "dy": -27}, "encoding": {"x": {"datum": -1.833, "type": "quantitative", "axis": null}}},
      {"data": {"name": "irontemp"}, "mark": {"type": "line", "strokeWidth": 2.6, "clip": false},
       "encoding": {"x": {"field": "day", "type": "quantitative", "axis": null},
        "y": {"field": "temp", "type": "quantitative",
         "axis": {"values": [1300, 1400], "format": "d", "offset": -115, "labelFontSize": 14, "tickSize": 5, "labelPadding": 1, "tickOpacity": {"condition": {"test": "datum.value == 1300", "value": 0}, "value": 1}}}}},
      {"data": {"name": "events"}, "transform": [{"filter": "datum.kind == 'dash'"}], "mark": {"type": "rule", "strokeDash": [8, 3, 2, 3], "strokeWidth": 1.5}, "encoding": {"x": {"field": "day", "type": "quantitative", "axis": null}, "y": {"datum": 1500, "type": "quantitative"}, "y2": {"datum": 1275}}},
      {"data": {"name": "events"}, "transform": [{"filter": "datum.kind == 'solid'"}], "mark": "rule", "encoding": {"x": {"field": "day", "type": "quantitative", "axis": null}, "y": {"datum": 1444, "type": "quantitative"}, "y2": {"datum": 1275}}}
    ]},
    {"width": 874, "height": 179,
     "resolve": {"axis": {"x": "independent"}},
     "layer": [
      {"data": {"name": "one"}, "mark": "rule", "encoding": {"x": {"datum": -3.130, "type": "quantitative", "scale": {"domain": [-3.130, 16.410], "nice": false, "zero": false}, "axis": null}, "y": {"datum": 1016, "type": "quantitative", "scale": {"domain": [0, 1016], "nice": false, "zero": false}}, "y2": {"datum": 0}}},
      {"data": {"name": "one"}, "mark": "rule", "encoding": {"x": {"datum": -2.280, "type": "quantitative", "axis": null}, "y": {"datum": 1016, "type": "quantitative"}, "y2": {"datum": 0}}},
      {"data": {"name": "one"}, "mark": "rect", "encoding": {"x": {"datum": -2.280, "type": "quantitative", "axis": null}, "x2": {"datum": -1.386}, "y": {"datum": 1016, "type": "quantitative"}, "y2": {"datum": 0}}},
      {"data": {"name": "one"}, "mark": "rect", "encoding": {"x": {"datum": -1.386, "type": "quantitative", "axis": null}, "x2": {"datum": -0.559}, "y": {"datum": 1016, "type": "quantitative"}, "y2": {"datum": 0}}},
      {"data": {"name": "one"}, "mark": {"type": "text", "text": ["出", "銑", "量", "kg"], "lineHeight": 35.5, "fontSize": 17, "dy": -61}, "encoding": {"x": {"datum": -1.833, "type": "quantitative", "axis": null}}},
      {"data": {"name": "tap"},
       "mark": {"type": "rect", "stroke": "black", "strokeWidth": 1.2,
        "fill": {"gradient": "linear", "x1": 0, "y1": 0, "x2": 1, "y2": 1, "stops": [
          {"offset": 0, "color": "white"}, {"offset": 0.117, "color": "white"}, {"offset": 0.117, "color": "black"}, {"offset": 0.167, "color": "black"},
          {"offset": 0.167, "color": "white"}, {"offset": 0.283, "color": "white"}, {"offset": 0.283, "color": "black"}, {"offset": 0.333, "color": "black"},
          {"offset": 0.333, "color": "white"}, {"offset": 0.45, "color": "white"}, {"offset": 0.45, "color": "black"}, {"offset": 0.5, "color": "black"},
          {"offset": 0.5, "color": "white"}, {"offset": 0.617, "color": "white"}, {"offset": 0.617, "color": "black"}, {"offset": 0.667, "color": "black"},
          {"offset": 0.667, "color": "white"}, {"offset": 0.783, "color": "white"}, {"offset": 0.783, "color": "black"}, {"offset": 0.833, "color": "black"},
          {"offset": 0.833, "color": "white"}, {"offset": 0.95, "color": "white"}, {"offset": 0.95, "color": "black"}, {"offset": 1, "color": "black"}]}},
       "encoding": {
        "x": {"field": "from", "type": "quantitative",
         "axis": {"orient": "bottom", "values": [0, 1, 2, 3, 4, 5, 6, 7, 8, 9, 10, 11, 12, 13, 14, 15, 16],
          "labelExpr": "datum.value == 0 ? '29' : datum.value == 1 ? '30' : format(datum.value - 1, 'd')",
          "ticks": false, "domain": true, "domainColor": "black", "domainWidth": 2, "labelFontSize": 19, "labelPadding": 9}},
        "x2": {"field": "to"},
        "y": {"field": "kg", "type": "quantitative",
         "axis": {"values": [200, 400, 600, 800], "format": "d", "offset": -115, "labelFontSize": 16, "tickSize": 5, "labelPadding": 1}},
        "y2": {"datum": 0}}},
      {"data": {"name": "events"}, "transform": [{"filter": "datum.kind == 'dash'"}], "mark": {"type": "rule", "strokeDash": [8, 3, 2, 3], "strokeWidth": 1.5},
       "encoding": {"x": {"field": "day", "type": "quantitative",
         "axis": {"orient": "bottom", "values": [0.45, 1.45, 2.45, 3.45, 4.45, 5.45, 6.45, 7.45, 8.45, 9.45, 10.45, 11.45, 12.45, 13.45, 14.45, 15.45],
          "labelExpr": "datum.value == 0.45 ? '11月' : datum.value == 8.45 ? '12月' : ''",
          "ticks": true, "tickSize": 7, "domain": false, "labelFont": "Noto Sans CJK JP", "labelFontSize": 15, "labelPadding": 22}},
        "y": {"datum": 1016, "type": "quantitative"}, "y2": {"datum": 0}}},
      {"data": {"name": "events"}, "transform": [{"filter": "datum.kind == 'solid'"}], "mark": "rule", "encoding": {"x": {"field": "day", "type": "quantitative", "axis": null}, "y": {"datum": 1016, "type": "quantitative"}, "y2": {"datum": 0}}},
      {"data": {"name": "one"}, "mark": "rule", "encoding": {"x": {"datum": -3.130, "type": "quantitative", "axis": null}, "x2": {"datum": -2.280}, "y": {"datum": 0, "type": "quantitative"}}}
    ]}
  ]
}
